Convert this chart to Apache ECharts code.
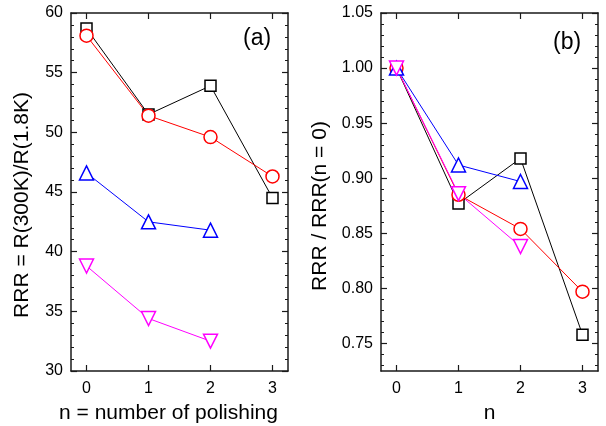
<!DOCTYPE html>
<html>
<head>
<meta charset="utf-8">
<script src="https://cdn.jsdelivr.net/npm/echarts@6/dist/echarts.min.js"></script>
<style>
html,body{margin:0;padding:0;background:#fff;}
#chart{width:606px;height:426px;}
</style>
</head>
<body>
<div id="chart"></div>
<script>
// ---- data ----
var nValues = [0, 1, 2, 3];
var xTicks = [0, 1, 2, 3];
var rrrBlack = [58.7, 51.5, 53.9, 44.5];
var rrrRed = [58.1, 51.4, 49.6, 46.3];
var rrrBlue = [46.6, 42.5, 41.8];
var rrrMagenta = [38.8, 34.4, 32.5];
var normBlack = [1.0, 0.877, 0.918, 0.758];
var normRed = [1.0, 0.885, 0.854, 0.797];
var normBlue = [1.0, 0.912, 0.897];
var normMagenta = [1.0, 0.886, 0.838];
var yTicksB = [0.75, 0.80, 0.85, 0.90, 0.95, 1.00, 1.05];
var yMinorTicksB = [0.73, 0.74, 0.76, 0.77, 0.78, 0.79, 0.81, 0.82, 0.83, 0.84, 0.86, 0.87, 0.88, 0.89,
  0.91, 0.92, 0.93, 0.94, 0.96, 0.97, 0.98, 0.99, 1.01, 1.02, 1.03, 1.04];

function pairs(vals) { return vals.map(function (v, i) { return [nValues[i], v]; }); }

var FONT = "'Liberation Sans', Arial, sans-serif";
var AX = '#1a1a1a';
var lineAx = { show: true, onZero: false, lineStyle: { color: AX, width: 1.5 } };
var noLine = { show: false, onZero: false };

function xAx(grid, pos, labels, name, pad) {
  return {
    type: 'value', gridIndex: grid, position: pos, min: -0.25, max: 3.25,
    axisLine: lineAx,
    axisTick: { show: true, inside: true, length: 6, customValues: xTicks, lineStyle: { color: AX, width: 1.2 } },
    axisLabel: { show: labels, customValues: xTicks, margin: 10, color: '#000', fontSize: 16, fontFamily: FONT },
    splitLine: { show: false },
    name: name || '', nameLocation: 'middle', nameGap: 32,
    nameTextStyle: { color: '#000', fontSize: 21, fontFamily: FONT, padding: pad || 0 }
  };
}

var option = {
  animation: false,
  backgroundColor: '#fff',
  grid: [
    { left: 71, top: 13, width: 217, height: 358, containLabel: false, outerBoundsMode: 'none' },
    { left: 381, top: 13, width: 217, height: 358, containLabel: false, outerBoundsMode: 'none' }
  ],
  xAxis: [
    xAx(0, 'bottom', true, 'n = number of polishing', [0, 22, 0, 0]),
    xAx(0, 'top', false),
    xAx(1, 'bottom', true, 'n'),
    xAx(1, 'top', false)
  ],
  yAxis: [
    {
      type: 'value', gridIndex: 0, position: 'left', min: 30, max: 60, interval: 5,
      axisLine: lineAx,
      axisTick: { show: true, inside: true, length: 6, lineStyle: { color: AX, width: 1.2 } },
      minorTick: { show: true, splitNumber: 5, length: 3, lineStyle: { color: AX, width: 1 } },
      axisLabel: { color: '#000', fontSize: 16, fontFamily: FONT, margin: 8 },
      splitLine: { show: false },
      name: 'RRR = R(300K)/R(1.8K)', nameLocation: 'middle', nameGap: 38,
      nameTextStyle: { color: '#000', fontSize: 21, fontFamily: FONT, padding: [0, 26, 0, 0] }
    },
    {
      type: 'value', gridIndex: 0, position: 'right', min: 30, max: 60, interval: 5,
      axisLine: lineAx,
      axisTick: { show: true, inside: true, length: 6, lineStyle: { color: AX, width: 1.2 } },
      minorTick: { show: true, splitNumber: 5, length: 3, lineStyle: { color: AX, width: 1 } },
      axisLabel: { show: false },
      splitLine: { show: false }
    },
    {
      type: 'value', gridIndex: 1, position: 'left', min: 0.725, max: 1.05,
      axisLine: lineAx,
      axisTick: { show: true, inside: true, length: 6, customValues: yTicksB, lineStyle: { color: AX, width: 1.2 } },
      axisLabel: { customValues: yTicksB, color: '#000', fontSize: 16, fontFamily: FONT, margin: 8,
        formatter: function (v) { return v.toFixed(2); } },
      splitLine: { show: false },
      name: 'RRR / RRR(n = 0)', nameLocation: 'middle', nameGap: 50,
      nameTextStyle: { color: '#000', fontSize: 21, fontFamily: FONT, padding: [0, 28, 0, 0] }
    },
    {
      type: 'value', gridIndex: 1, position: 'left', min: 0.725, max: 1.05,
      axisLine: noLine,
      axisTick: { show: true, inside: true, length: 3, customValues: yMinorTicksB, lineStyle: { color: AX, width: 1 } },
      axisLabel: { show: false },
      splitLine: { show: false }
    },
    {
      type: 'value', gridIndex: 1, position: 'right', min: 0.725, max: 1.05,
      axisLine: lineAx,
      axisTick: { show: true, inside: true, length: 6, customValues: yTicksB, lineStyle: { color: AX, width: 1.2 } },
      axisLabel: { show: false },
      splitLine: { show: false }
    },
    {
      type: 'value', gridIndex: 1, position: 'right', min: 0.725, max: 1.05,
      axisLine: noLine,
      axisTick: { show: true, inside: true, length: 3, customValues: yMinorTicksB, lineStyle: { color: AX, width: 1 } },
      axisLabel: { show: false },
      splitLine: { show: false }
    }
  ],
  graphic: [
    { type: 'text', left: 243, top: 27, style: { text: '(a)', fontSize: 23, fontFamily: FONT, fill: '#000' } },
    { type: 'text', left: 553, top: 31, style: { text: '(b)', fontSize: 23, fontFamily: FONT, fill: '#000' } }
  ],
  series: []
};

function mk(data, xi, yi, color, symbol, size, rotate) {
  return {
    type: 'line', xAxisIndex: xi, yAxisIndex: yi, data: pairs(data),
    symbol: symbol, symbolSize: size, symbolRotate: rotate || 0, showSymbol: true,
    lineStyle: { color: color, width: 1 },
    itemStyle: { color: '#fff', borderColor: color, borderWidth: 1.5 },
    emphasis: { disabled: true }
  };
}
var specs = [
  [rrrBlack, normBlack, '#000000', 'rect', 11, 0],
  [rrrRed, normRed, '#ff0000', 'circle', 13, 0],
  [rrrBlue, normBlue, '#0000ff', 'triangle', 14, 0],
  [rrrMagenta, normMagenta, '#ff00ff', 'triangle', 14, 180]
];
specs.forEach(function (s) {
  option.series.push(mk(s[0], 0, 0, s[2], s[3], s[4], s[5]));
  option.series.push(mk(s[1], 2, 2, s[2], s[3], s[4], s[5]));
});

var chart = echarts.init(document.getElementById('chart'), null, { renderer: 'canvas' });
chart.setOption(option);
</script>
</body>
</html>
